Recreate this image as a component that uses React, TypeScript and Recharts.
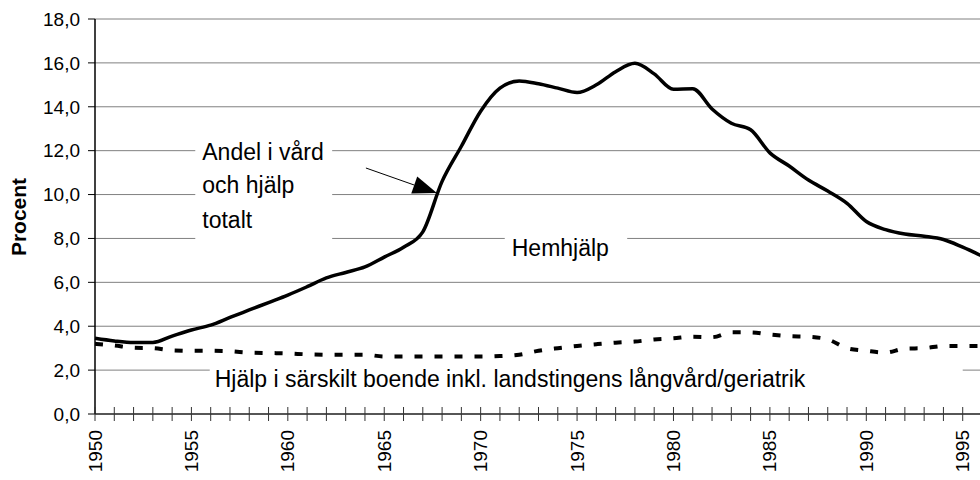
import React from "react";
import {
  CartesianGrid,
  Line,
  LineChart,
  ReferenceArea,
  ReferenceLine,
  XAxis,
  YAxis,
} from "recharts";

const years = [
  1950, 1951, 1952, 1953, 1954, 1955, 1956, 1957, 1958, 1959, 1960, 1961,
  1962, 1963, 1964, 1965, 1966, 1967, 1968, 1969, 1970, 1971, 1972, 1973,
  1974, 1975, 1976, 1977, 1978, 1979, 1980, 1981, 1982, 1983, 1984, 1985,
  1986, 1987, 1988, 1989, 1990, 1991, 1992, 1993, 1994, 1995, 1996,
];

// andel i vård och hjälp totalt (%)
const totalt = [
  3.45, 3.33, 3.26, 3.26, 3.55, 3.83, 4.05, 4.4, 4.74, 5.08, 5.42, 5.8,
  6.2, 6.45, 6.7, 7.15, 7.6, 8.3, 10.6, 12.2, 13.8, 14.85, 15.18, 15.05,
  14.85, 14.65, 15.0, 15.6, 15.98, 15.5, 14.8, 14.82, 13.9, 13.25, 12.95, 11.9,
  11.3, 10.66, 10.16, 9.6, 8.77, 8.4, 8.2, 8.1, 7.95, 7.6, 7.2,
];

// hjälp i särskilt boende inkl. landstingens långvård/geriatrik (%)
const sarskilt = [
  3.2, 3.12, 3.02, 3.0, 2.9, 2.88, 2.88, 2.86, 2.8, 2.78, 2.76, 2.72,
  2.7, 2.7, 2.7, 2.62, 2.62, 2.62, 2.62, 2.62, 2.62, 2.64, 2.7, 2.88,
  3.0, 3.1, 3.18, 3.25, 3.3, 3.4, 3.45, 3.52, 3.5, 3.72, 3.72, 3.62,
  3.55, 3.52, 3.4, 3.0, 2.88, 2.8, 2.98, 3.0, 3.1, 3.1, 3.1,
];

const yTicks = [0, 2, 4, 6, 8, 10, 12, 14, 16, 18];

const data = years.map((year, i) => ({
  year,
  totalt: totalt[i],
  sarskilt: sarskilt[i],
}));

const FONT = "'Liberation Sans', Arial, sans-serif";

function YearTick(props: any) {
  const { x, y, payload } = props;
  const year = payload.value;
  return (
    <g>
      <line x1={x} y1={y - 7} x2={x} y2={y + 7} stroke="#333" strokeWidth={1} />
      {year % 5 === 0 && (
        <text
          x={x}
          y={y + 16}
          transform={`rotate(-90, ${x}, ${y + 16})`}
          textAnchor="end"
          dominantBaseline="central"
          fontSize={19}
          fontFamily={FONT}
          fill="#000"
        >
          {year}
        </text>
      )}
    </g>
  );
}

function boxLabel(lines: string[], dx: number, dy: number[]) {
  return (props: any) => {
    const vb = props.viewBox;
    if (!vb) return null;
    return (
      <g>
        {lines.map((t, i) => (
          <text
            key={t}
            x={vb.x + dx}
            y={vb.y + dy[i]}
            fontSize={23}
            fontFamily={FONT}
            fill="#000"
          >
            {t}
          </text>
        ))}
      </g>
    );
  };
}

function ArrowShape(props: any) {
  const { x1, y1, x2, y2 } = props;
  if (x1 == null) return null;
  const dx = x2 - x1;
  const dy = y2 - y1;
  const len = Math.sqrt(dx * dx + dy * dy);
  const ux = dx / len;
  const uy = dy / len;
  const bx = x2 - ux * 24;
  const by = y2 - uy * 24;
  const px = -uy * 9;
  const py = ux * 9;
  return (
    <g>
      <line x1={x1} y1={y1} x2={bx} y2={by} stroke="#000" strokeWidth={1} />
      <polygon
        points={`${x2},${y2} ${bx + px},${by + py} ${bx - px},${by - py}`}
        fill="#000"
      />
    </g>
  );
}

export default function App() {
  return (
    <div
      style={{
        position: "absolute",
        left: 0,
        top: 0,
        width: 980,
        height: 480,
        overflow: "hidden",
        background: "#fff",
      }}
    >
      <LineChart
        width={985}
        height={480}
        data={data}
        margin={{ top: 19, right: 3, bottom: 0, left: 0 }}
      >
        <CartesianGrid vertical={false} stroke="#808080" strokeWidth={1} />
        <XAxis
          dataKey="year"
          type="number"
          domain={[1950, 1996]}
          ticks={years}
          interval={0}
          height={66}
          tickSize={0}
          tickMargin={0}
          tickLine={false}
          tick={<YearTick />}
          axisLine={{ stroke: "#333", strokeWidth: 1.5 }}
        />
        <YAxis
          type="number"
          domain={[0, 18]}
          ticks={yTicks}
          width={95}
          tickSize={7}
          tickMargin={8}
          tickFormatter={(v: number) => v.toFixed(1).replace(".", ",")}
          tick={{ fontSize: 19, fill: "#000", fontFamily: FONT }}
          tickLine={{ stroke: "#000" }}
          axisLine={{ stroke: "#000", strokeWidth: 1.5 }}
          label={(props: any) => (
            <text
              x={18}
              y={217}
              transform="rotate(-90, 18, 217)"
              textAnchor="middle"
              dominantBaseline="central"
              fontSize={21}
              fontWeight="bold"
              fontFamily={FONT}
              fill="#000"
            >
              Procent
            </text>
          )}
        />
        <ReferenceArea
          x1={1955.2}
          x2={1962.3}
          y1={7.7}
          y2={13.0}
          fill="#fff"
          fillOpacity={1}
          stroke="none"
          label={boxLabel(["Andel i vård", "och hjälp", "totalt"], 7, [31, 64, 99])}
        />
        <ReferenceArea
          x1={1971.25}
          x2={1977.6}
          y1={6.7}
          y2={8.6}
          fill="#fff"
          fillOpacity={1}
          stroke="none"
          label={boxLabel(["Hemhjälp"], 7, [31])}
        />
        <ReferenceArea
          x1={1955.95}
          x2={1995.0}
          y1={0.42}
          y2={2.37}
          fill="#fff"
          fillOpacity={1}
          stroke="none"
          label={boxLabel(
            ["Hjälp i särskilt boende inkl. landstingens långvård/geriatrik"],
            5,
            [25],
          )}
        />
        <Line
          type="monotone"
          dataKey="sarskilt"
          stroke="#000"
          strokeWidth={4}
          strokeDasharray="8 12"
          dot={false}
          isAnimationActive={false}
        />
        <Line
          type="monotone"
          dataKey="totalt"
          stroke="#000"
          strokeWidth={3.5}
          dot={false}
          isAnimationActive={false}
        />
        <ReferenceLine
          segment={[
            { x: 1964.05, y: 11.21 },
            { x: 1967.73, y: 10.07 },
          ]}
          shape={<ArrowShape />}
        />
      </LineChart>
    </div>
  );
}
